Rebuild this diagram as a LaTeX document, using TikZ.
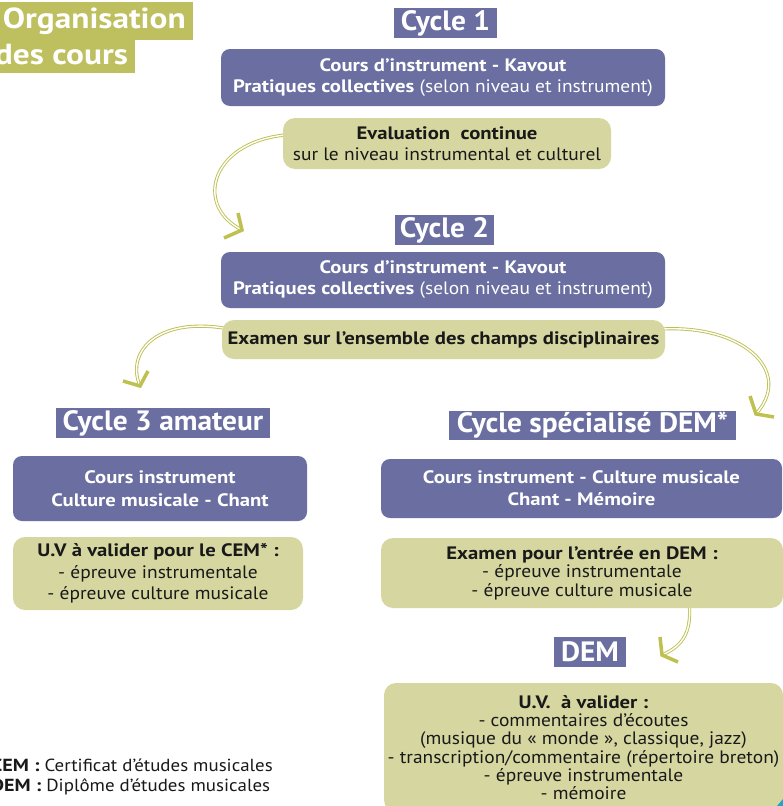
\documentclass[tikz,border=0pt]{standalone}
\usepackage{fontspec}
\setmainfont{PT Sans}[FakeStretch=1.08, BoldFeatures={FakeStretch=1.15}]
\newfontfamily\labelfont{PT Sans}[FakeStretch=1.05]
\usetikzlibrary{backgrounds}
\definecolor{cpurple}{RGB}{106,110,160}
\definecolor{colive}{RGB}{214,215,160}
\definecolor{ctitle}{RGB}{190,191,94}
\definecolor{carrow}{RGB}{190,192,80}
\definecolor{ctext}{RGB}{25,25,25}
\definecolor{ccorner}{RGB}{40,160,200}
\begin{document}
\begin{tikzpicture}[x=1pt,y=-1pt,
  pbox/.style={fill=cpurple, rounded corners=9pt, text=white, align=center, inner sep=0pt,
    font=\fontsize{18}{21}\selectfont\bfseries},
  obox/.style={fill=colive, rounded corners=12pt, text=ctext, align=center, inner sep=0pt,
    font=\fontsize{18}{21}\selectfont},
  clabel/.style={fill=cpurple, text=white, inner sep=0pt, font=\labelfont\fontsize{28}{32}\selectfont\bfseries},
  titletext/.style={text=white, inner sep=0pt, font=\fontsize{29}{32}\selectfont\bfseries},
  legend/.style={text=ctext, inner sep=0pt, font=\fontsize{17.5}{20}\selectfont},
  swoosh/.style={draw=carrow, line width=0.9pt, double=white, double distance=1.4pt},
  vhead/.style={draw=carrow, line width=3.5pt, line join=miter, line cap=butt}
]
\useasboundingbox (0,0) rectangle (783,806);
\clip (0,0) rectangle (783,806);

% title
\fill[ctitle] (0,2) rectangle (193,40);
\fill[ctitle] (0,40) rectangle (135,73);
\node[titletext, anchor=base east] (title1) at (186,28) {Organisation};
\node[titletext, anchor=base east] (title2) at (128,64) {des cours};

% cycle 1
\node[clabel, minimum width=103pt, minimum height=30pt] (cyc1) at (445.5,23) {Cycle 1};
\node[pbox, minimum width=444pt, minimum height=57pt] (box1) at (443,77.5)
  {Cours d’instrument - Kavout\\Pratiques collectives \mdseries(selon niveau et instrument)};
\node[obox, minimum width=328pt, minimum height=51pt] (eval) at (447,143.5)
  {\bfseries Evaluation\ \ continue\\sur le niveau instrumental et culturel};

% cycle 2
\node[clabel, minimum width=99pt, minimum height=30pt] (cyc2) at (444.5,230) {Cycle 2};
\node[pbox, minimum width=444pt, minimum height=56pt] (box2) at (443,280)
  {Cours d’instrument - Kavout\\Pratiques collectives \mdseries(selon niveau et instrument)};
\node[obox, minimum width=443pt, minimum height=39pt, font=\fontsize{18}{21}\selectfont\bfseries] (exam) at (443.5,339.5)
  {Examen sur l’ensemble des champs disciplinaires};

% cycle 3 amateur
\node[clabel, minimum width=214pt, minimum height=30pt] (cyc3) at (163,423) {Cycle 3 amateur};
\node[pbox, minimum width=294pt, minimum height=65pt, font=\fontsize{18}{23}\selectfont\bfseries] (lp) at (160,488.5)
  {Cours instrument\\Culture musicale - Chant};
\node[obox, minimum width=290pt, minimum height=73pt, font=\fontsize{18}{21.5}\selectfont] (lo) at (158,573.5)
  {\bfseries U.V à valider pour le CEM* :\\- épreuve instrumentale\\- épreuve culture musicale};

% cycle specialise
\node[clabel, minimum width=287pt, minimum height=29pt] (cycs) at (592.5,425.5) {Cycle spécialisé DEM*};
\node[pbox, minimum width=401pt, minimum height=59pt, font=\fontsize{18}{22}\selectfont\bfseries] (rp) at (581.5,488.5)
  {Cours instrument - Culture musicale\\Chant - Mémoire};
\node[obox, minimum width=402pt, minimum height=70pt, font=\fontsize{18}{18.5}\selectfont] (ro) at (582,573)
  {\bfseries Examen pour l’entrée en DEM :\\- épreuve instrumentale\\- épreuve culture musicale};

% DEM
\node[clabel, minimum width=72pt, minimum height=30pt] (dem) at (590,652) {DEM};
\node[obox, minimum width=399pt, minimum height=129pt, font=\fontsize{18}{18.3}\selectfont] (uv) at (583.5,747.5)
  {\bfseries U.V.\ \ à valider :\\- commentaires d’écoutes\\(musique du « monde », classique, jazz)\\- transcription/commentaire (répertoire breton)\\- épreuve instrumentale\\- mémoire};

% legend
\node[legend, anchor=base west] (leg1) at (-9,771) {\textbf{CEM :} Certificat d’études musicales};
\node[legend, anchor=base west] (leg2) at (-9,791) {\textbf{DEM :} Diplôme d’études musicales};

% corner
\fill[ccorner] (777,806) -- (783,799) -- (783,806) -- cycle;

% arrows
\coordinate (t1) at (242,230);
\coordinate (t2) at (140,386);
\coordinate (t3) at (756,414);
\coordinate (t4) at (662,655);
\begin{pgfonlayer}{background}
\draw[swoosh] ([xshift=10pt,yshift=9pt]eval.west) .. controls (212,138) and (192,205) .. (t1);
\draw[swoosh] ([xshift=10pt,yshift=10pt]exam.west) .. controls (160,315) and (125,350) .. (t2);
\draw[swoosh] ([xshift=-10pt,yshift=10pt]exam.east) .. controls (740,322) and (795,370) .. (t3);
\draw[swoosh] ([xshift=107pt,yshift=8pt]ro.south) .. controls (692,630) and (685,645) .. (t4);
\end{pgfonlayer}
\draw[vhead] (t1) ++(-4,-17) -- (t1) -- ++(-18,8);
\draw[vhead] (t2) ++(8,-15) -- (t2) -- ++(-17,-5);
\draw[vhead] (t3) ++(-6,-18) -- (t3) -- ++(18,3);
\draw[vhead] (t4) ++(-2,-18) -- (t4) -- ++(16,7);
\end{tikzpicture}
\end{document}
